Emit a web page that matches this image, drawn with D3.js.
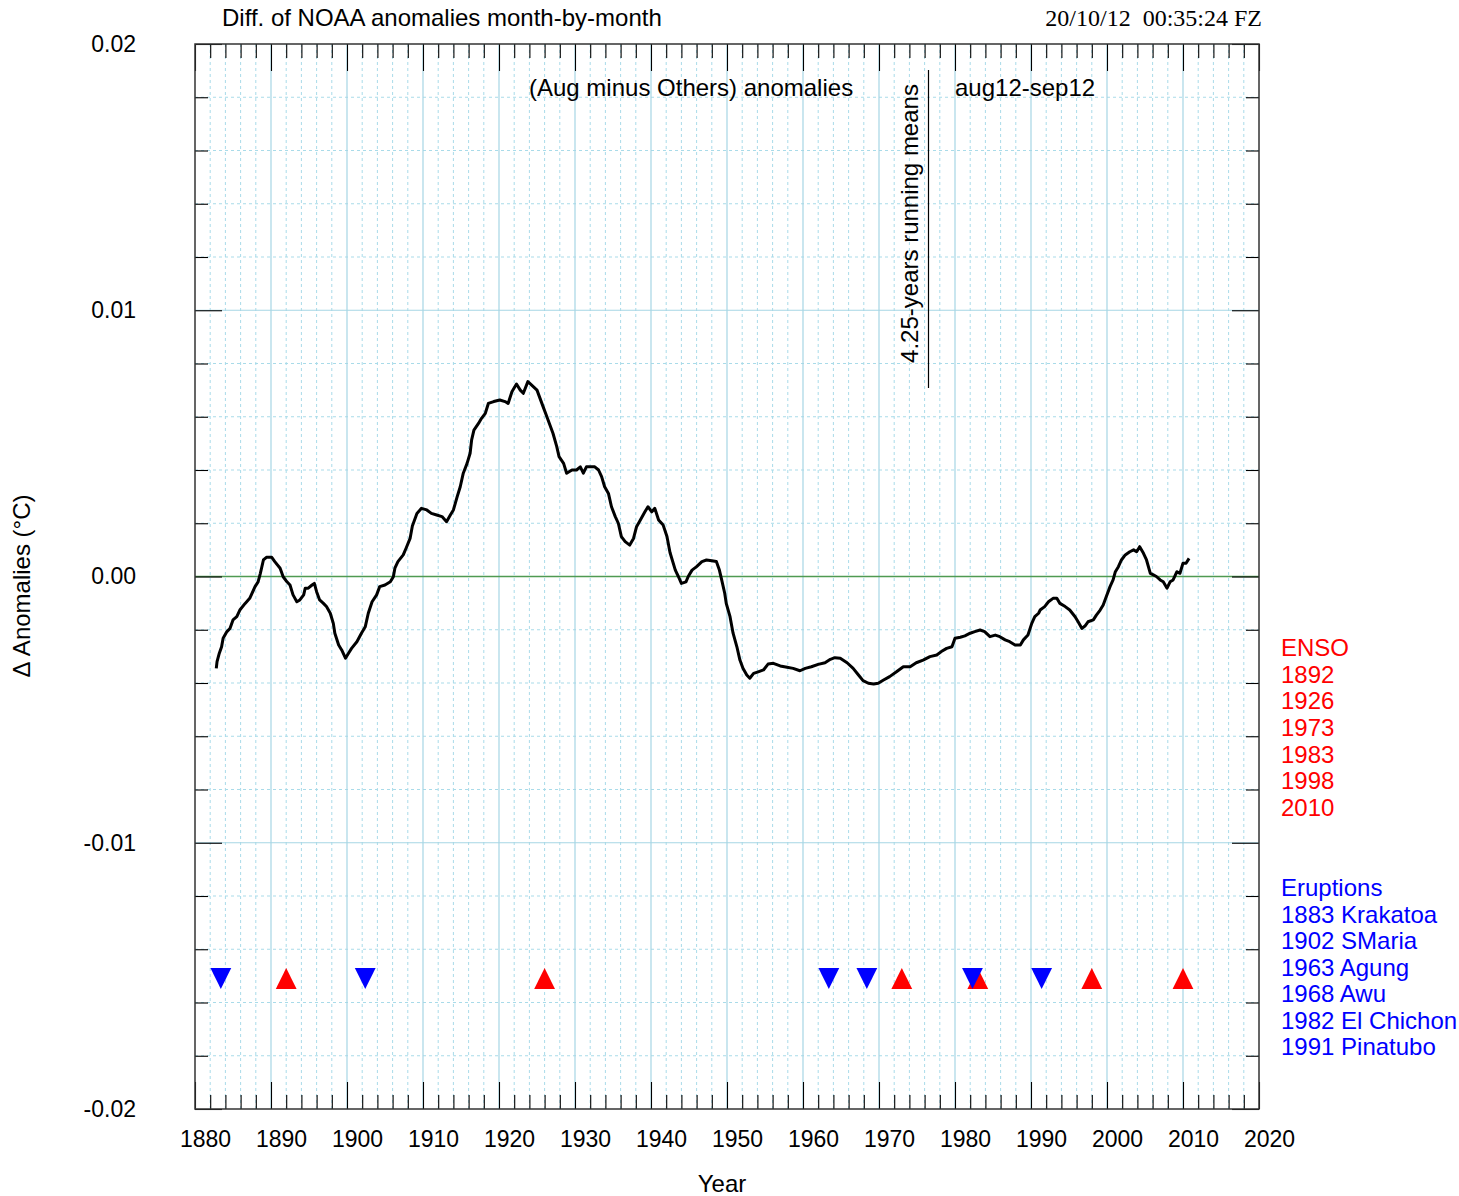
<!DOCTYPE html>
<html>
<head>
<meta charset="utf-8">
<script src="https://cdn.jsdelivr.net/npm/d3@7"></script>
<style>
  body { margin: 0; background: #fff; }
  text { font-family: "Liberation Sans", Arial, sans-serif; }
</style>
</head>
<body>
<div id="vis"></div>
<script>
const SVG = d3.select("#vis").append("svg");

const WIDTH = 1459;
const HEIGHT = 1196;
const frame = [195, 1259, 44, 1109]; // LEFT, RIGHT, TOP, BOTTOM

SVG.attr("width", WIDTH).attr("height", HEIGHT);

// 4.25-year running mean of (Aug minus Others), in units of 0.001 °C
const years = [
  1882.8, 1882.9, 1883.2, 1883.5, 1883.7, 1884.2, 1884.6, 1885.0, 1885.5, 1885.9,
  1886.6, 1887.2, 1887.9, 1888.3, 1888.6, 1889.0, 1889.4, 1890.1, 1890.5, 1891.2,
  1891.6, 1892.1, 1892.5, 1892.9, 1893.4, 1893.8, 1894.3, 1894.5, 1894.9, 1895.4,
  1895.7, 1896.0, 1896.4, 1896.9, 1897.3, 1897.8, 1898.2, 1898.4, 1898.9, 1899.3,
  1899.8, 1900.2, 1900.6, 1901.3, 1901.9, 1902.4, 1902.8, 1903.3, 1903.9, 1904.3,
  1905.0, 1905.7, 1906.1, 1906.3, 1906.7, 1907.4, 1907.8, 1908.3, 1908.6, 1909.2,
  1909.8, 1910.5, 1911.1, 1911.8, 1912.5, 1913.1, 1913.6, 1914.0, 1914.5, 1914.9,
  1915.3, 1915.8, 1916.2, 1916.4, 1916.7, 1917.3, 1917.7, 1918.2, 1918.6, 1919.3,
  1920.1, 1920.8, 1921.2, 1921.7, 1922.3, 1922.8, 1923.2, 1923.8, 1924.3, 1925.0,
  1925.4, 1925.8, 1926.3, 1926.7, 1927.1, 1927.6, 1927.9, 1928.5, 1928.9, 1929.6,
  1930.2, 1930.7, 1931.1, 1931.5, 1932.2, 1932.6, 1933.1, 1933.5, 1933.9, 1934.4,
  1934.8, 1935.3, 1935.7, 1936.1, 1936.6, 1937.2, 1937.7, 1938.1, 1938.6, 1939.2,
  1939.6, 1940.1, 1940.5, 1941.0, 1941.6, 1942.1, 1942.5, 1943.2, 1943.6, 1944.0,
  1944.6, 1944.9, 1945.4, 1946.0, 1946.7, 1947.3, 1948.0, 1948.6, 1949.0, 1949.3,
  1949.7, 1949.9, 1950.4, 1950.8, 1951.3, 1951.7, 1952.1, 1952.6, 1953.0, 1953.5,
  1954.1, 1954.8, 1955.4, 1956.1, 1957.0, 1957.9, 1958.7, 1959.6, 1960.3, 1961.1,
  1962.0, 1962.9, 1963.6, 1964.2, 1964.9, 1965.8, 1966.6, 1967.3, 1967.9, 1968.6,
  1969.3, 1969.9, 1970.6, 1971.4, 1972.3, 1973.2, 1974.1, 1974.9, 1975.8, 1976.7,
  1977.6, 1978.2, 1978.9, 1979.6, 1980.0, 1980.7, 1981.3, 1982.0, 1982.6, 1983.3,
  1983.9, 1984.6, 1985.3, 1985.9, 1986.6, 1987.2, 1987.9, 1988.6, 1989.0, 1989.6,
  1990.1, 1990.5, 1991.0, 1991.2, 1991.8, 1992.3, 1992.9, 1993.4, 1993.8, 1994.5,
  1995.1, 1995.8, 1996.2, 1996.7, 1997.1, 1997.5, 1998.2, 1998.6, 1999.1, 1999.5,
  1999.9, 2000.4, 2000.8, 2001.1, 2001.5, 2001.9, 2002.4, 2003.0, 2003.5, 2003.9,
  2004.3, 2004.8, 2005.2, 2005.7, 2006.1, 2006.5, 2007.0, 2007.4, 2007.9, 2008.3,
  2008.7, 2009.2, 2009.6, 2010.0, 2010.4, 2010.8
];
const diffs = [
  -3.45, -3.20, -2.88, -2.64, -2.32, -2.07, -1.95, -1.63, -1.51, -1.26,
  -1.01, -0.82, -0.38, -0.20, 0.12, 0.62, 0.72, 0.72, 0.56, 0.31,
  -0.01, -0.20, -0.32, -0.69, -0.95, -0.88, -0.69, -0.44, -0.44, -0.32,
  -0.26, -0.57, -0.88, -1.01, -1.13, -1.38, -1.76, -2.13, -2.57, -2.76,
  -3.07, -2.88, -2.70, -2.45, -2.13, -1.89, -1.38, -0.95, -0.69, -0.38,
  -0.32, -0.20, -0.01, 0.31, 0.56, 0.81, 1.08, 1.43, 1.90, 2.37,
  2.56, 2.50, 2.37, 2.31, 2.25, 2.06, 2.31, 2.50, 3.00, 3.37,
  3.88, 4.25, 4.63, 5.13, 5.50, 5.75, 5.94, 6.13, 6.50, 6.57,
  6.63, 6.57, 6.50, 6.94, 7.23, 7.00, 6.88, 7.32, 7.19, 7.00,
  6.69, 6.38, 6.00, 5.69, 5.38, 4.88, 4.50, 4.25, 3.88, 4.00,
  4.00, 4.12, 3.88, 4.12, 4.12, 4.12, 4.00, 3.75, 3.37, 3.12,
  2.62, 2.25, 2.00, 1.50, 1.31, 1.18, 1.43, 1.87, 2.12, 2.43,
  2.62, 2.43, 2.56, 2.12, 1.93, 1.50, 0.90, 0.24, 0.00, -0.26,
  -0.20, 0.00, 0.24, 0.37, 0.56, 0.62, 0.59, 0.56, 0.24, -0.13,
  -0.63, -1.01, -1.51, -2.13, -2.64, -3.14, -3.45, -3.70, -3.82, -3.64,
  -3.58, -3.51, -3.29, -3.26, -3.36, -3.41, -3.45, -3.54, -3.45, -3.39,
  -3.30, -3.24, -3.11, -3.05, -3.07, -3.24, -3.45, -3.70, -3.91, -4.01,
  -4.04, -4.01, -3.89, -3.76, -3.58, -3.39, -3.39, -3.24, -3.14, -3.01,
  -2.95, -2.82, -2.70, -2.64, -2.32, -2.28, -2.23, -2.13, -2.07, -2.01,
  -2.07, -2.26, -2.20, -2.26, -2.38, -2.45, -2.57, -2.57, -2.38, -2.20,
  -1.76, -1.51, -1.38, -1.26, -1.13, -0.95, -0.82, -0.82, -1.01, -1.13,
  -1.26, -1.51, -1.70, -1.95, -1.86, -1.70, -1.63, -1.45, -1.26, -1.07,
  -0.76, -0.38, -0.13, 0.18, 0.37, 0.62, 0.81, 0.93, 1.00, 0.93,
  1.12, 0.87, 0.62, 0.12, 0.06, 0.00, -0.13, -0.20, -0.44, -0.20,
  -0.13, 0.18, 0.12, 0.50, 0.50, 0.68
];

const ensoLabels = ["1892", "1926", "1973", "1983", "1998", "2010"];
const ensoYears = [1892, 1926, 1973, 1983, 1998, 2010];
const eruptionLabels = ["1883 Krakatoa", "1902 SMaria", "1963 Agung", "1968 Awu", "1982 El Chichon", "1991 Pinatubo"];
const eruptionYears = [1883.4, 1902.4, 1963.4, 1968.4, 1982.3, 1991.4];
const markerLevel = -15.1;

const xTickValues = [1880, 1890, 1900, 1910, 1920, 1930, 1940, 1950, 1960, 1970, 1980, 1990, 2000, 2010, 2020];
const xTickLabels = ["1880", "1890", "1900", "1910", "1920", "1930", "1940", "1950", "1960", "1970", "1980", "1990", "2000", "2010", "2020"];
const yTickValues = [-20, -10, 0, 10, 20];
const yTickLabels = ["-0.02", "-0.01", "0.00", "0.01", "0.02"];

const RED = "#ff0000";
const BLUE = "#0000ff";
const GRID = "#a9dbe9";

// Escalas
const x = d3.scaleLinear().domain([1880, 2020]).range([frame[0], frame[1]]);
const y = d3.scaleLinear().domain([-20, 20]).range([frame[3], frame[2]]);

const xMinor = d3.range(1880, 2021, 2).filter(v => v % 10 !== 0);
const yMinor = d3.range(-20, 20.1, 2).filter(v => v % 10 !== 0);

// Grid
const grid = SVG.append("g").attr("id", "grid");
grid.selectAll(".vminor").data(xMinor).join("line")
  .attr("x1", d => x(d)).attr("x2", d => x(d))
  .attr("y1", frame[2]).attr("y2", frame[3])
  .attr("stroke", GRID).attr("stroke-width", 1).attr("stroke-dasharray", "3,3");
grid.selectAll(".hminor").data(yMinor).join("line")
  .attr("x1", frame[0]).attr("x2", frame[1])
  .attr("y1", d => y(d)).attr("y2", d => y(d))
  .attr("stroke", GRID).attr("stroke-width", 1).attr("stroke-dasharray", "3,3");
grid.selectAll(".vmajor").data(xTickValues.slice(1, -1)).join("line")
  .attr("x1", d => x(d)).attr("x2", d => x(d))
  .attr("y1", frame[2]).attr("y2", frame[3])
  .attr("stroke", "#a6d6e4").attr("stroke-width", 1.2);
grid.selectAll(".hmajor").data([-10, 10]).join("line")
  .attr("x1", frame[0]).attr("x2", frame[1])
  .attr("y1", d => y(d)).attr("y2", d => y(d))
  .attr("stroke", "#a6d6e4").attr("stroke-width", 1.2);

// zero line
SVG.append("line")
  .attr("x1", frame[0]).attr("x2", frame[1])
  .attr("y1", y(0)).attr("y2", y(0))
  .attr("stroke", "#4f9a52").attr("stroke-width", 1.5);

// Ejes
function styleAxis(g) {
  g.select(".domain").remove();
  g.selectAll("line").attr("stroke", "#000").attr("stroke-width", 1.1);
  g.attr("font-family", "Liberation Sans, Arial, sans-serif").attr("font-size", 23);
  g.selectAll("text").attr("fill", "#000");
}

SVG.append("g").attr("transform", `translate(0,${frame[3]})`)
  .call(d3.axisBottom(x).tickValues(xMinor).tickSizeInner(-14).tickSizeOuter(0).tickFormat(""))
  .call(styleAxis);
SVG.append("g").attr("transform", `translate(0,${frame[3]})`)
  .call(d3.axisBottom(x).tickValues(xTickValues).tickSizeInner(-27).tickSizeOuter(0).tickPadding(22)
    .tickFormat((d, i) => xTickLabels[i]))
  .call(styleAxis)
  .selectAll("text").attr("dx", 10);
SVG.append("g").attr("transform", `translate(0,${frame[2]})`)
  .call(d3.axisTop(x).tickValues(xMinor).tickSizeInner(-14).tickSizeOuter(0).tickFormat(""))
  .call(styleAxis);
SVG.append("g").attr("transform", `translate(0,${frame[2]})`)
  .call(d3.axisTop(x).tickValues(xTickValues).tickSizeInner(-27).tickSizeOuter(0).tickFormat(""))
  .call(styleAxis);

SVG.append("g").attr("transform", `translate(${frame[0]},0)`)
  .call(d3.axisLeft(y).tickValues(yMinor).tickSizeInner(-13).tickSizeOuter(0).tickFormat(""))
  .call(styleAxis);
SVG.append("g").attr("transform", `translate(${frame[0]},0)`)
  .call(d3.axisLeft(y).tickValues(yTickValues).tickSizeInner(-27).tickSizeOuter(0).tickPadding(59)
    .tickFormat((d, i) => yTickLabels[i]))
  .call(styleAxis);
SVG.append("g").attr("transform", `translate(${frame[1]},0)`)
  .call(d3.axisRight(y).tickValues(yMinor).tickSizeInner(-13).tickSizeOuter(0).tickFormat(""))
  .call(styleAxis);
SVG.append("g").attr("transform", `translate(${frame[1]},0)`)
  .call(d3.axisRight(y).tickValues(yTickValues).tickSizeInner(-27).tickSizeOuter(0).tickFormat(""))
  .call(styleAxis);

// marco
SVG.append("rect")
  .attr("x", frame[0]).attr("y", frame[2])
  .attr("width", frame[1] - frame[0]).attr("height", frame[3] - frame[2])
  .attr("fill", "none").attr("stroke", "#333").attr("stroke-width", 1.5);

// Curva
const data = years.map((yr, i) => ({ year: yr, value: diffs[i] }));
const line = d3.line().x(d => x(d.year)).y(d => y(d.value));
SVG.append("path")
  .datum(data)
  .attr("d", line)
  .attr("fill", "none")
  .attr("stroke", "#000")
  .attr("stroke-width", 3)
  .attr("stroke-linejoin", "round");

// Triangulos ENSO (rojo) y erupciones (azul)
const halfW = 10.4, triH = 21;
SVG.selectAll(".enso").data(ensoYears).join("path")
  .attr("d", d => {
    const cx = x(d), cy = y(markerLevel);
    return `M${cx},${cy - triH / 2}L${cx + halfW},${cy + triH / 2}L${cx - halfW},${cy + triH / 2}Z`;
  })
  .attr("fill", RED);
SVG.selectAll(".erupt").data(eruptionYears).join("path")
  .attr("d", d => {
    const cx = x(d), cy = y(markerLevel);
    return `M${cx - halfW},${cy - triH / 2}L${cx + halfW},${cy - triH / 2}L${cx},${cy + triH / 2}Z`;
  })
  .attr("fill", BLUE);

// Textos
const FS = 24;
SVG.append("text").attr("x", 222).attr("y", 26).attr("font-size", FS)
  .text("Diff. of NOAA anomalies month-by-month");
SVG.append("text").attr("x", 1262).attr("y", 26).attr("font-size", FS)
  .attr("text-anchor", "end").style("font-family", "'Liberation Serif', 'Times New Roman', serif")
  .attr("xml:space", "preserve")
  .text("20/10/12  00:35:24 FZ");
SVG.append("text").attr("x", 529).attr("y", 96).attr("font-size", FS)
  .text("(Aug minus Others) anomalies");
SVG.append("text").attr("x", 955).attr("y", 96).attr("font-size", FS)
  .text("aug12-sep12");
SVG.append("text").attr("transform", "translate(918,223.5) rotate(-90)")
  .attr("text-anchor", "middle").attr("font-size", FS)
  .text("4.25-years running means");
SVG.append("line").attr("x1", 928.5).attr("x2", 928.5).attr("y1", 70).attr("y2", 388)
  .attr("stroke", "#000").attr("stroke-width", 1.2);

SVG.append("text").attr("transform", "translate(30,586) rotate(-90)")
  .attr("text-anchor", "middle").attr("font-size", FS)
  .text("\u0394 Anomalies (\u00b0C)");
SVG.append("text").attr("x", 722).attr("y", 1192)
  .attr("text-anchor", "middle").attr("font-size", FS)
  .text("Year");

// Leyenda
const legX = 1281;
const ensoRows = ["ENSO"].concat(ensoLabels);
SVG.selectAll(".ensoTxt").data(ensoRows).join("text")
  .attr("x", legX).attr("y", (d, i) => 656 + i * 26.67)
  .attr("font-size", FS).attr("fill", RED)
  .text(d => d);
const eruptRows = ["Eruptions"].concat(eruptionLabels);
SVG.selectAll(".eruptTxt").data(eruptRows).join("text")
  .attr("x", legX).attr("y", (d, i) => 896 + i * 26.5)
  .attr("font-size", FS).attr("fill", BLUE)
  .text(d => d);
</script>
</body>
</html>
